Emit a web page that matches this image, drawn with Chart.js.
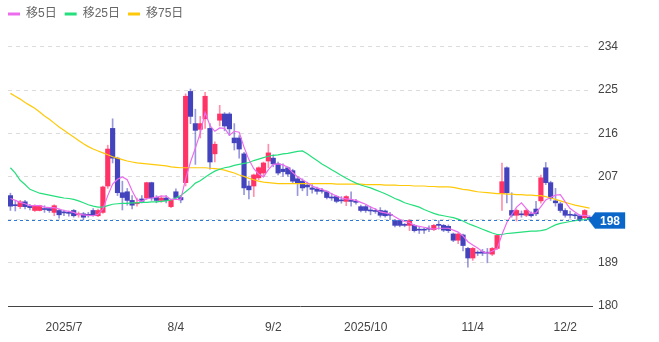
<!DOCTYPE html>
<html>
<head>
<meta charset="utf-8">
<title>株価チャート</title>
<script src="https://cdn.jsdelivr.net/npm/chart.js@4"></script>
<style>
    html, body { margin: 0; padding: 0; background: #fff; }
    #wrap { width: 659px; height: 342px; position: relative; }
</style>
</head>
<body>
<div id="wrap"><canvas id="stockChart"></canvas></div>
<script>
// trading days shown on the chart
const dates = [
    '6/16','6/17','6/18','6/19','6/20','6/23','6/24','6/25','6/26','6/27','6/30',
    '7/1','7/2','7/3','7/4','7/7','7/8','7/9','7/10','7/11','7/14','7/15','7/16','7/17','7/18','7/22','7/23','7/24','7/25','7/28','7/29','7/30','7/31',
    '8/1','8/4','8/5','8/6','8/7','8/8','8/12','8/13','8/14','8/15','8/18','8/19','8/20','8/21','8/22','8/25','8/26','8/27','8/28','8/29',
    '9/1','9/2','9/3','9/4','9/5','9/8','9/9','9/10','9/11','9/12','9/16','9/17','9/18','9/19','9/22','9/24','9/25','9/26','9/29','9/30',
    '10/1','10/2','10/3','10/6','10/7','10/8','10/9','10/10','10/14','10/15','10/16','10/17','10/20','10/21','10/22','10/23','10/24','10/27','10/28','10/29','10/30','10/31',
    '11/4','11/5','11/6','11/7','11/10','11/11','11/12','11/13','11/14','11/17','11/18','11/19','11/20','11/21','11/25','11/26','11/27','11/28',
    '12/1','12/2','12/3','12/4','12/5','12/8','12/9'
];

const opens = [
    203, 201, 200.7, 201.7, 200.8, 199.9, 199.9, 200.3, 200.3, 199.5,
    199.9, 199.5, 199.4, 199.9, 199, 199.2, 199, 199.9, 198.8, 199.5,
    205, 217, 210.8, 203.6, 203.8, 202, 201.3, 202.3, 202.5, 205.7,
    202.6, 202, 202.5, 200.7, 203.8, 202.6, 205.7, 224.7, 218, 216.8,
    219, 217, 211.7, 218.7, 220, 220, 215, 215, 211.7, 205,
    205, 206.7, 207.7, 210.2, 210.8, 209.6, 208.5, 208.8, 208.2, 206.5,
    206, 205.2, 204.6, 204.4, 204, 203.8, 202.7, 202.8, 202, 201.8,
    202, 201.8, 200.7, 200.7, 199.9, 199.9, 199.9, 199.8, 199, 197.8,
    197.8, 196.9, 196.8, 196.8, 195.9, 195.9, 196.2, 195.9, 197, 196.8,
    196.6, 195, 193.7, 194.8, 192, 190, 191.2, 191.3, 191.1, 190.8,
    192, 203.4, 208.8, 199.9, 198.9, 199.1, 198.9, 199.2, 200.2, 201.9,
    208.8, 205.7, 201.9, 201.3, 199.9, 199, 198.9, 198.8, 198.4, 198.5
];
const highs = [
    203.5, 201.8, 202, 202, 201.2, 201.1, 201, 200.9, 200.5, 201.1,
    200.2, 200, 199.8, 200.1, 199.6, 199.5, 199.5, 200.3, 200.2, 205,
    213.5, 219, 211, 206, 204.5, 203, 202.5, 203, 205.8, 205.8,
    203, 203, 203, 202.2, 204.4, 203, 224.2, 225.2, 221, 219.5,
    224.5, 218, 214.2, 221.8, 220.3, 220.3, 218, 215.5, 212, 206,
    207.5, 209, 210, 213.7, 211.5, 210, 209.6, 209, 208.5, 207,
    206.5, 205.8, 205.3, 204.8, 204.5, 204, 203.5, 203, 202.8, 203,
    203.8, 202.2, 201, 201, 200.7, 200.3, 200.5, 200, 199.5, 198,
    198, 197.2, 198, 197, 196.5, 196.3, 196.7, 197, 197.8, 197,
    196.9, 195.2, 195.2, 195, 192.2, 192.2, 191.5, 191.8, 192, 192.2,
    194.9, 209.8, 209, 203.6, 200.2, 199.8, 200.2, 199.6, 201.8, 207.3,
    209.9, 206, 204.5, 201.6, 200.3, 199.8, 199.3, 199, 200.1, 198.8
];
const lows = [
    199.9, 199.8, 200.3, 200.2, 200, 199.7, 199.8, 199.5, 199.5, 198.8,
    198.3, 198.8, 198.7, 198.5, 198.5, 197.9, 198.5, 198.7, 198.6, 199.3,
    204.5, 209.8, 203, 200, 201, 200.2, 200.8, 201.5, 202.2, 202,
    201.5, 201.6, 201.5, 200.5, 202.2, 201.5, 205, 218, 209.5, 215,
    217, 208.5, 210, 217.5, 216.5, 215.5, 212.5, 210.8, 203.2, 202.3,
    202.8, 206.3, 207, 208.8, 209, 207.3, 207, 207, 205.5, 203,
    204, 203, 203.5, 203.3, 203.5, 202.3, 202, 201.5, 201.4, 200.9,
    200.8, 201.2, 199.6, 199.5, 199, 199.3, 198.5, 198.5, 198, 196.5,
    196.5, 196.5, 195.7, 195.4, 195.1, 195.1, 195.5, 195.7, 196, 195.5,
    195.3, 193.4, 193, 191.5, 188.1, 189.5, 190.5, 190.5, 189, 190.5,
    191.8, 199.9, 201.5, 198.5, 197.7, 198.5, 198.6, 198.5, 198.8, 201.4,
    205.3, 202, 200.8, 199.5, 198.5, 198.3, 198.2, 197.6, 198.2, 197.7
];
const closes = [
    200.8, 200.9, 201.7, 200.7, 200.5, 200.9, 200.9, 200.1, 199.9, 200.9,
    199.0, 199.4, 199.3, 198.8, 199.1, 198.5, 198.9, 198.9, 199.9, 204.8,
    212.7, 210.8, 203.6, 202.6, 202.0, 201.0, 201.5, 201.8, 205.7, 202.5,
    202.0, 202.5, 202.0, 202.0, 202.6, 202.1, 223.7, 219.5, 216.6, 218.0,
    223.7, 210.0, 213.7, 220.0, 217.5, 216.9, 214.0, 212.7, 204.6, 204.2,
    207.3, 208.8, 209.8, 211.9, 209.6, 207.7, 208.0, 207.5, 206.0, 205.5,
    204.6, 204.8, 204.3, 203.9, 203.9, 202.6, 202.5, 201.8, 201.9, 202.8,
    201.8, 201.6, 199.9, 199.9, 199.8, 199.7, 198.9, 198.8, 198.9, 196.8,
    196.8, 196.8, 197.8, 195.7, 195.8, 195.8, 196.0, 196.8, 196.8, 195.8,
    195.7, 193.7, 195.0, 192.6, 190.0, 192.0, 191.0, 191.0, 191.0, 192.0,
    194.7, 205.9, 203.6, 198.9, 199.9, 199.0, 199.9, 198.8, 199.2, 206.7,
    205.7, 202.4, 201.5, 199.9, 198.9, 198.9, 198.8, 197.9, 199.9, 198.0
];

// moving averages
const ma5 = [
    202.4, 202.0, 201.6, 201.3, 200.9, 200.9, 200.9, 200.6, 200.5, 200.5,
    200.2, 199.9, 199.7, 199.5, 199.1, 199.0, 198.9, 198.8, 199.1, 200.2,
    203.0, 205.4, 206.4, 206.9, 206.3, 204.0, 202.1, 201.8, 202.4, 202.5,
    202.7, 202.9, 202.9, 202.2, 202.2, 202.2, 206.5, 210.0, 212.9, 216.0,
    220.3, 217.6, 216.4, 217.1, 217.0, 215.6, 216.4, 216.2, 213.1, 210.5,
    208.6, 207.5, 206.9, 208.4, 209.5, 209.6, 209.4, 208.9, 207.8, 206.9,
    206.3, 205.7, 205.0, 204.6, 204.3, 203.9, 203.4, 202.9, 202.5, 202.3,
    202.2, 202.0, 201.6, 201.2, 200.6, 200.2, 199.6, 199.4, 199.2, 198.6,
    198.0, 197.6, 197.4, 196.8, 196.6, 196.4, 196.2, 196.0, 196.2, 196.2,
    196.2, 195.8, 195.4, 194.6, 193.4, 192.7, 192.1, 191.3, 191.0, 191.4,
    191.9, 194.9, 197.4, 199.0, 200.6, 201.5, 200.3, 199.3, 199.4, 200.7,
    202.1, 202.6, 203.1, 203.2, 201.7, 200.3, 199.6, 198.9, 198.9, 198.7
];
const ma25 = [
    208.8, 207.7, 206.2, 205.3, 204.3, 203.9, 203.5, 203.3, 203.1, 202.9,
    202.7, 202.5, 202.4, 202.2, 201.9, 201.5, 201.1, 200.8, 200.6, 200.6,
    200.9, 201.2, 201.3, 201.4, 201.4, 201.5, 201.5, 201.6, 201.6, 201.7,
    201.7, 201.8, 201.9, 202.1, 202.5, 203.0, 203.8, 204.6, 205.6, 206.1,
    206.8, 207.5, 208.1, 208.5, 208.8, 209.0, 209.3, 209.5, 209.7, 209.9,
    210.3, 210.6, 210.9, 211.2, 211.4, 211.5, 211.7, 211.8, 212.0, 212.2,
    212.3, 211.7, 211.0, 210.3, 209.6, 209.0, 208.4, 207.8, 207.2, 206.6,
    206.1, 205.6, 205.2, 204.9, 204.6, 204.2, 203.8, 203.4, 202.9, 202.4,
    202.0, 201.5, 201.2, 200.9, 200.6, 200.1, 199.7, 199.3, 199.0, 198.8,
    198.6, 198.4, 198.1, 197.7, 197.2, 196.8, 196.4, 196.0, 195.6, 195.2,
    194.9, 194.9, 195.1, 195.2, 195.3, 195.4, 195.5, 195.6, 195.6, 195.7,
    195.9, 196.4, 196.9, 197.2, 197.4, 197.6, 197.8, 197.9, 198.0, 198.2
];
const ma75 = [
    224.3, 223.7, 223.1, 222.4, 221.8, 221.2, 220.4, 219.6, 218.9, 218.1,
    217.3, 216.6, 215.9, 215.2, 214.5, 213.8, 213.2, 212.7, 212.3, 211.9,
    211.5, 211.1, 210.8, 210.5, 210.2, 210.0, 209.8, 209.7, 209.6, 209.5,
    209.4, 209.3, 209.2, 209.0, 208.9, 208.8, 208.8, 208.8, 208.8, 208.8,
    208.8, 208.7, 208.6, 208.5, 208.3, 208.0, 207.7, 207.3, 207.0, 206.6,
    206.3, 206.0, 205.8, 205.7, 205.6, 205.5, 205.5, 205.5, 205.5, 205.5,
    205.5, 205.5, 205.5, 205.5, 205.5, 205.5, 205.5, 205.4, 205.4, 205.4,
    205.4, 205.4, 205.4, 205.3, 205.3, 205.3, 205.3, 205.2, 205.2, 205.2,
    205.1, 205.1, 205.1, 205.0, 205.0, 205.0, 204.9, 204.9, 204.8, 204.8,
    204.8, 204.7, 204.5, 204.3, 204.2, 204.0, 203.8, 203.7, 203.6, 203.5,
    203.4, 203.4, 203.3, 203.3, 203.2, 203.2, 203.1, 203.1, 203.0, 203.0,
    202.8, 202.5, 202.2, 201.9, 201.6, 201.3, 201.0, 200.8, 200.6, 200.4
];

// axis ticks
const yTicks = [180, 189, 198, 207, 216, 225, 234];
const tickDates = ['7/1', '8/4', '9/2', '10/1', '11/4', '12/2'];
const tickText = ['2025/7', '8/4', '9/2', '2025/10', '11/4', '12/2'];

const lastPrice = closes[closes.length - 1];

const UP = '#ff3366', DOWN = '#4343bd';
const UP_WICK = 'rgba(255, 51, 102, 0.55)', DOWN_WICK = 'rgba(67, 67, 189, 0.55)';

function isUp(i) { return closes[i] >= opens[i]; }

// dashed line at the last price plus the blue tag on the axis
const priceTag = {
    id: 'priceTag',
    afterDraw(chart) {
        const { ctx, chartArea, scales } = chart;
        const y = Math.round(scales.y.getPixelForValue(lastPrice)) + 0.5;
        const x0 = chartArea.right;
        ctx.save();
        ctx.strokeStyle = '#2a7ad6';
        ctx.lineWidth = 1;
        ctx.setLineDash([3, 3]);
        ctx.beginPath();
        ctx.moveTo(chartArea.left, y);
        ctx.lineTo(x0, y);
        ctx.stroke();
        ctx.setLineDash([]);
        ctx.fillStyle = '#0a66c9';
        ctx.strokeStyle = 'rgba(10, 102, 201, 0.35)';
        ctx.beginPath();
        ctx.moveTo(x0 - 3, y);
        ctx.lineTo(x0 + 3, y - 8);
        ctx.lineTo(x0 + 33, y - 8);
        ctx.lineTo(x0 + 33, y + 8);
        ctx.lineTo(x0 + 3, y + 8);
        ctx.closePath();
        ctx.fill();
        ctx.stroke();
        ctx.fillStyle = '#fff';
        ctx.font = 'bold 12px Arial, "Liberation Sans", sans-serif';
        ctx.textAlign = 'center';
        ctx.textBaseline = 'middle';
        ctx.fillText(String(Math.round(lastPrice)), x0 + 18, y + 1);
        ctx.restore();
    }
};

Chart.defaults.font.family = 'Arial, "Liberation Sans", "Noto Sans CJK JP", sans-serif';
Chart.defaults.font.size = 12;
Chart.defaults.color = '#555';

const ctx = document.getElementById('stockChart').getContext('2d');
new Chart(ctx, {
    type: 'bar',
    data: {
        labels: dates,
        datasets: [
            {
                type: 'line', label: '移5日', data: ma5, order: 0, yAxisID: 'y',
                borderColor: '#ec6cee', backgroundColor: '#ec6cee',
                borderWidth: 1.2, pointRadius: 0, tension: 0
            },
            {
                type: 'line', label: '移25日', data: ma25, order: 0, yAxisID: 'y',
                borderColor: '#25df7c', backgroundColor: '#25df7c',
                borderWidth: 1.2, pointRadius: 0, tension: 0
            },
            {
                type: 'line', label: '移75日', data: ma75, order: 0, yAxisID: 'y',
                borderColor: '#ffc90a', backgroundColor: '#ffc90a',
                borderWidth: 1.2, pointRadius: 0, tension: 0
            },
            {
                label: 'body', order: 1, grouped: false, yAxisID: 'y',
                data: opens.map((o, i) => [o, closes[i]]),
                backgroundColor: ctx => isUp(ctx.dataIndex) ? UP : DOWN,
                barThickness: 4.5, minBarLength: 1, borderWidth: 0
            },
            {
                label: 'wick', order: 2, grouped: false, yAxisID: 'y',
                data: lows.map((l, i) => [l, highs[i]]),
                backgroundColor: ctx => isUp(ctx.dataIndex) ? UP_WICK : DOWN_WICK,
                barThickness: 1, borderWidth: 0
            }
        ]
    },
    options: {
        responsive: true,
        maintainAspectRatio: false,
        animation: false,
        layout: { padding: { left: 0, right: 0, top: 0, bottom: 0 } },
        plugins: {
            tooltip: { enabled: false },
            legend: {
                align: 'start',
                labels: {
                    boxWidth: 12,
                    boxHeight: 3,
                    padding: 8,
                    color: '#666',
                    font: { size: 12 },
                    filter: item => item.datasetIndex < 3,
                    generateLabels(chart) {
                        const items = Chart.defaults.plugins.legend.labels.generateLabels(chart);
                        items.forEach(it => { it.lineWidth = 0; it.fillStyle = it.strokeStyle; });
                        return items;
                    }
                }
            }
        },
        scales: {
            x: {
                grid: { display: false },
                border: { display: true, color: '#444', width: 1 },
                ticks: {
                    autoSkip: false,
                    maxRotation: 0,
                    padding: 6,
                    color: '#444',
                    callback: function(value) {
                        const k = tickDates.indexOf(dates[value]);
                        return k >= 0 ? tickText[k] : null;
                    }
                },
                afterBuildTicks: s => {
                    s.ticks = tickDates.map(d => ({ value: dates.indexOf(d) }));
                },
                afterFit: s => { s.height = 36; }
            },
            y: {
                position: 'right',
                min: 180,
                max: 237.5,
                grid: { color: '#dcdcdc', drawTicks: false },
                border: { display: false, dash: [4, 4] },
                ticks: { padding: 6, color: '#444' },
                afterBuildTicks: s => { s.ticks = yTicks.map(v => ({ value: v })); },
                afterFit: s => { s.width = 67; }
            },
            yl: {
                position: 'left',
                display: true,
                grid: { display: false },
                border: { display: false },
                ticks: { display: false },
                afterFit: s => { s.width = 8; }
            }
        }
    },
    plugins: [priceTag]
});
</script>
</body>
</html>
